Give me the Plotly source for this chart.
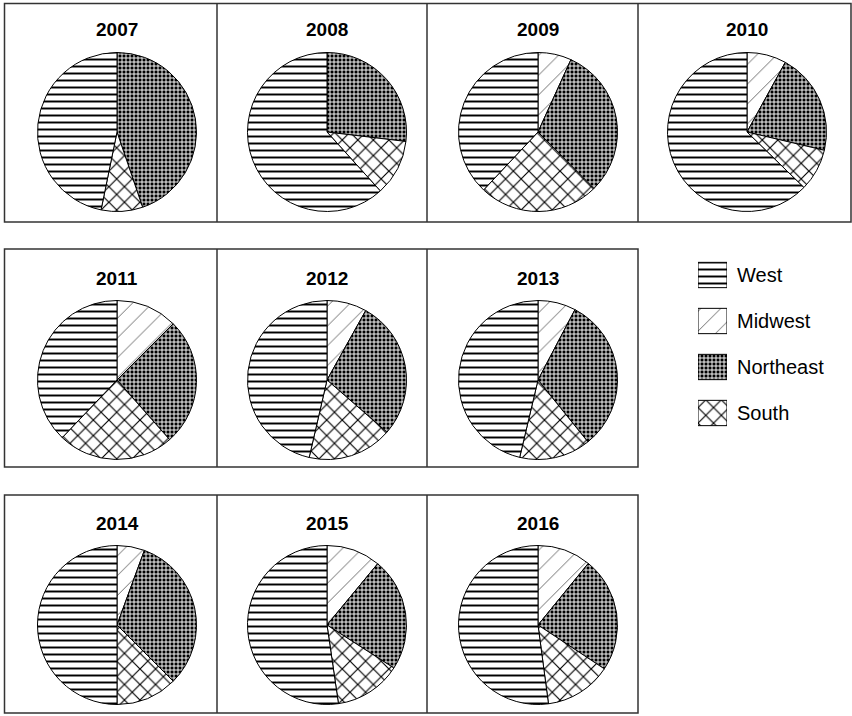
import plotly.graph_objects as go

W, H = 852, 716

years = ["2007", "2008", "2009", "2010", "2011", "2012", "2013", "2014", "2015", "2016"]
regions = ["Midwest", "Northeast", "South", "West"]  # clockwise from 12 o'clock

# shares (%)
midwest = [0.0, 0.0, 6.8, 8.0, 12.5, 8.1, 7.7, 5.6, 11.0, 10.9]
northeast = [44.6, 26.9, 30.8, 20.7, 26.0, 28.3, 31.5, 31.9, 23.1, 23.4]
south = [8.4, 11.4, 24.4, 8.6, 23.6, 17.2, 14.5, 12.5, 13.6, 13.6]
west = [46.6, 61.7, 38.0, 62.7, 37.9, 46.4, 46.3, 50.0, 52.3, 52.1]

legend_order = ["West", "Midwest", "Northeast", "South"]

# pattern styles per region
PAT = {
    "West": dict(shape="-", size=7, solidity=0.28, fgcolor="black", bgcolor="white"),
    "Midwest": dict(shape="/", size=14, solidity=0.06, fgcolor="#555555", bgcolor="white"),
    "Northeast": dict(shape="+", size=4, solidity=0.42, fgcolor="white", bgcolor="black"),
    "South": dict(shape="x", size=11, solidity=0.2, fgcolor="black", bgcolor="white"),
}

# layout positions (pixels)
pie_cx = [117, 327, 538, 747, 117, 327, 538, 117, 327, 538]
pie_cy = [132, 132, 132, 132, 380, 380, 380, 625, 625, 625]
title_cy = [29, 29, 29, 29, 278, 278, 278, 523, 523, 523]
R = 79.5


def px(x):
    return x / W


def py(y):
    return 1 - y / H


fig = go.Figure()

for i, yr in enumerate(years):
    vals = [midwest[i], northeast[i], south[i], west[i]]
    cx, cy = pie_cx[i], pie_cy[i]
    fig.add_trace(go.Pie(
        labels=regions,
        values=vals,
        sort=False,
        direction="clockwise",
        rotation=0,
        textinfo="none",
        textposition="none",
        showlegend=False,
        name=yr,
        marker=dict(
            colors=[PAT[r]["fgcolor"] for r in regions],
            line=dict(color="black", width=1),
            pattern=dict(
                shape=[PAT[r]["shape"] for r in regions],
                size=[PAT[r]["size"] for r in regions],
                solidity=[PAT[r]["solidity"] for r in regions],
                fgcolor=[PAT[r]["fgcolor"] for r in regions],
                bgcolor=[PAT[r]["bgcolor"] for r in regions],
                fillmode="replace",
            ),
        ),
        domain=dict(x=[px(cx - R), px(cx + R)], y=[py(cy + R), py(cy - R)]),
    ))
    fig.add_annotation(
        text="<b>%s</b>" % yr, x=px(cx), y=py(title_cy[i]),
        xref="paper", yref="paper", xanchor="center", yanchor="middle",
        showarrow=False, font=dict(family="Liberation Sans, Arial", size=19, color="black"),
    )

# legend drawn as small patterned bars, one trace per region
for r in legend_order:
    p = PAT[r]
    fig.add_trace(go.Bar(
        y=[r],
        x=[1],
        orientation="h",
        width=0.55,
        showlegend=False,
        hoverinfo="skip",
        name=r,
        xaxis="x",
        yaxis="y",
        marker=dict(
            color=p["fgcolor"],
            line=dict(color="black", width=1),
            pattern=dict(shape=p["shape"], size=p["size"], solidity=p["solidity"],
                         fgcolor=p["fgcolor"], bgcolor=p["bgcolor"], fillmode="replace"),
        ),
    ))
    fig.add_annotation(
        text=r, x=px(735), y=r, xref="paper", yref="y",
        xanchor="left", yanchor="middle", showarrow=False,
        font=dict(family="Liberation Sans, Arial", size=20, color="black"),
    )

# panel frames
line_style = dict(color="#333333", width=1.5)
rows = [
    (4.5, 851, 3.5, 222, [217, 427, 638]),
    (4.5, 638, 249, 467, [217, 427]),
    (4.5, 638, 495, 713, [217, 427]),
]
for x0, x1, y0, y1, divs in rows:
    fig.add_shape(type="rect", xref="paper", yref="paper",
                  x0=px(x0), x1=px(x1), y0=py(y1), y1=py(y0), line=line_style)
    for d in divs:
        fig.add_shape(type="line", xref="paper", yref="paper",
                      x0=px(d), x1=px(d), y0=py(y1), y1=py(y0), line=line_style)

fig.update_layout(
    width=W, height=H,
    margin=dict(l=0, r=0, t=0, b=0),
    paper_bgcolor="white", plot_bgcolor="white",
    font=dict(family="Liberation Sans, Arial", color="black"),
    xaxis=dict(domain=[px(698), px(727)], range=[0, 1], visible=False, fixedrange=True),
    yaxis=dict(domain=[py(436), py(252)], range=[3.5, -0.5], visible=False,
               type="category", categoryorder="array", categoryarray=legend_order, fixedrange=True),
    barmode="overlay",
    showlegend=False,
)

fig.write_html("out.html", config={"displayModeBar": False},
               post_script="document.body.style.margin='0px';")
